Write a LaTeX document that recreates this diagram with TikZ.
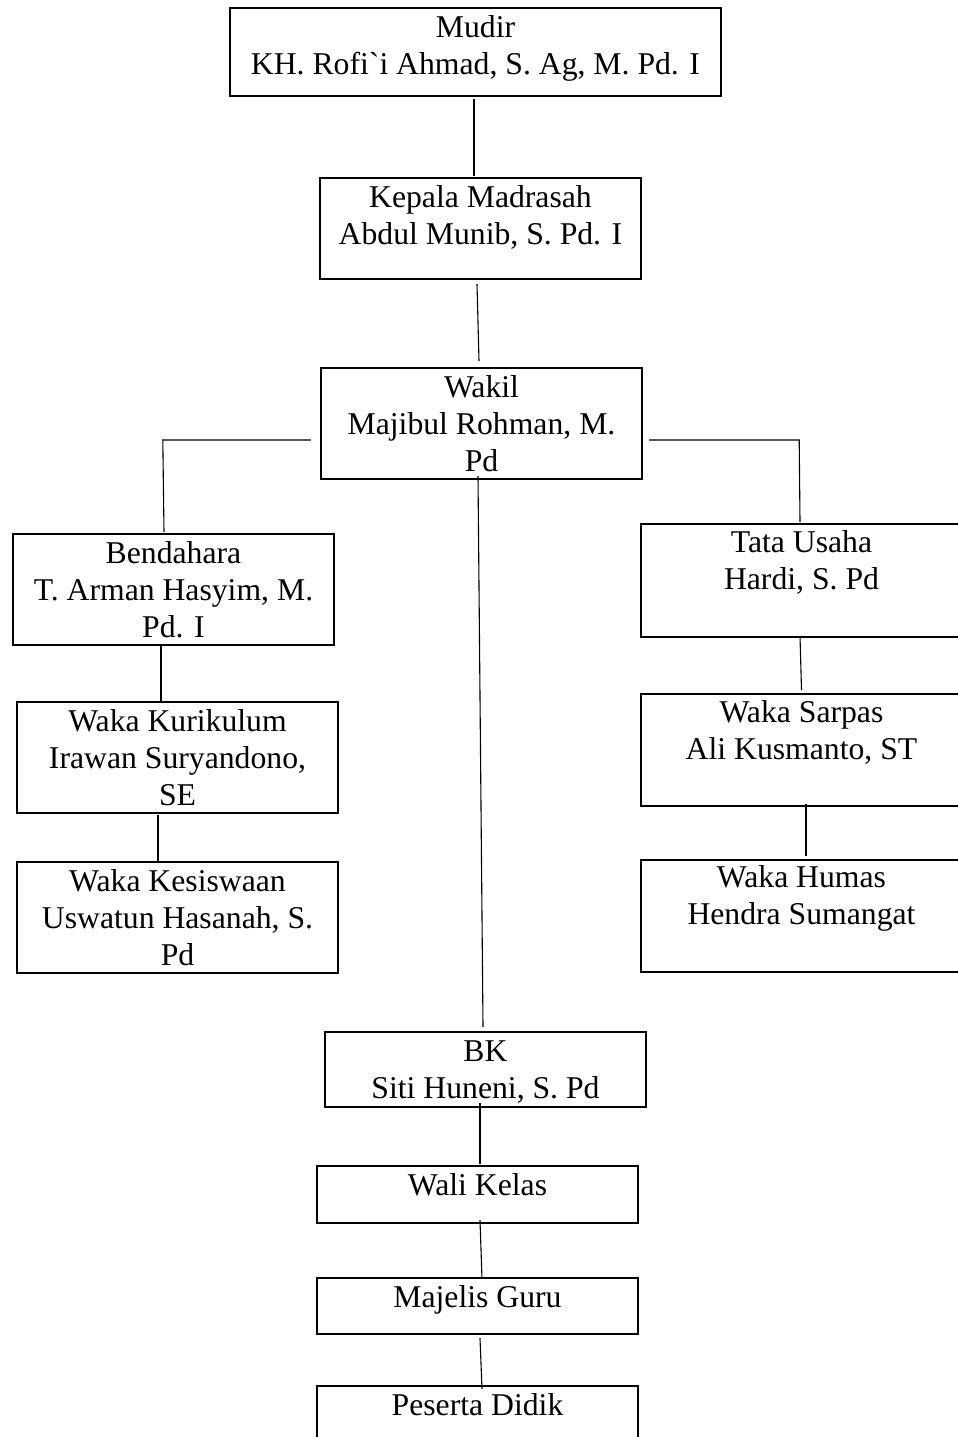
\documentclass[tikz,border=0pt]{standalone}
\usepackage{fontspec}
\setmainfont{Liberation Serif}[Ligatures=TeXOff]
\usetikzlibrary{calc}
\tikzset{
  box/.style={draw, line width=2.4pt, rectangle, inner sep=0pt},
  lbl/.style={align=center, anchor=base, inner sep=0pt, font=\fontsize{31.7}{37}\selectfont},
  conn/.style={line width=1.1pt},
  connthick/.style={line width=2.4pt},
}
\begin{document}
\begin{tikzpicture}[x=1pt,y=-1pt]
\useasboundingbox (0,0) rectangle (958,1437);
\clip (0,0) rectangle (958,1437);
% boxes
\node[box, minimum width=491, minimum height=88]  (mudir)   at (475.5,52) {};
\node[box, minimum width=321, minimum height=101] (kepala)  at (480.5,228.5) {};
\node[box, minimum width=321, minimum height=111] (wakil)   at (481.5,423.5) {};
\node[box, minimum width=321, minimum height=111] (bend)    at (173.5,589.5) {};
\node[box, minimum width=321, minimum height=111] (kuri)    at (177.5,757.5) {};
\node[box, minimum width=321, minimum height=111] (kesis)   at (177.5,917.5) {};
\node[box, minimum width=321, minimum height=113] (tata)    at (801.5,580.5) {};
\node[box, minimum width=321, minimum height=112] (sarpas)  at (801.5,750) {};
\node[box, minimum width=321, minimum height=112] (humas)   at (801.5,916) {};
\node[box, minimum width=321, minimum height=75]  (bk)      at (485.5,1069.5) {};
\node[box, minimum width=321, minimum height=57]  (wali)    at (477.5,1194.5) {};
\node[box, minimum width=321, minimum height=56]  (majelis) at (477.5,1306) {};
\node[box, minimum width=321, minimum height=57]  (peserta) at (477.5,1414.5) {};
% texts (anchor base = baseline of the last line)
\node[lbl] (mudirT)   at ($(mudir.north)+(0,68)$)    {Mudir\\KH. Rofi`i Ahmad, S. Ag, M. Pd. I};
\node[lbl] (kepalaT)  at ($(kepala.north)+(0,68)$)   {Kepala Madrasah\\Abdul Munib, S. Pd. I};
\node[lbl] (wakilT)   at ($(wakil.north)+(0,105)$)   {Wakil\\Majibul Rohman, M.\\Pd};
\node[lbl] (bendT)    at ($(bend.north)+(0,105)$)    {Bendahara\\T. Arman Hasyim, M.\\Pd. I};
\node[lbl] (kuriT)    at ($(kuri.north)+(0,105)$)    {Waka Kurikulum\\Irawan Suryandono,\\SE};
\node[lbl] (kesisT)   at ($(kesis.north)+(0,105)$)   {Waka Kesiswaan\\Uswatun Hasanah, S.\\Pd};
\node[lbl] (tataT)    at ($(tata.north)+(0,67)$)     {Tata Usaha\\Hardi, S. Pd};
\node[lbl] (sarpasT)  at ($(sarpas.north)+(0,67)$)   {Waka Sarpas\\Ali Kusmanto, ST};
\node[lbl] (humasT)   at ($(humas.north)+(0,66)$)    {Waka Humas\\Hendra Sumangat};
\node[lbl] (bkT)      at ($(bk.north)+(0,68)$)       {BK\\Siti Huneni, S. Pd};
\node[lbl] (waliT)    at ($(wali.north)+(0,31)$)     {Wali Kelas};
\node[lbl] (majelisT) at ($(majelis.north)+(0,31)$)  {Majelis Guru};
\node[lbl] (pesertaT) at ($(peserta.north)+(0,31)$)  {Peserta Didik};
% connectors
\draw[connthick] ($(mudir.south)+(-1.5,2)$) -- ($(kepala.north)+(-6.5,-1)$);
\draw[conn] ($(kepala.south)+(-3.5,4)$) -- ($(wakil.north)+(-2.5,-6)$);
\draw[conn] ($(wakil.west)+(-9,16.5)$) -- ++(-148,0) -- ($(bend.north)+(-9.5,-1)$);
\draw[conn] ($(wakil.east)+(6,16.5)$) -- ++(150,0) -- ($(tata.north)+(-1.5,-1)$);
\draw[conn] ($(wakil.south)+(-3.5,-4)$) -- ($(bk.north)+(-2.5,-4)$);
\draw[conn] ($(bend.south)+(-12.5,-2)$) -- ($(kuri.north)+(-16.5,0)$);
\draw[conn] ($(kuri.south)+(-19.5,1)$) -- ($(kesis.north)+(-19.5,1)$);
\draw[conn] ($(tata.south)+(-1.5,-2)$) -- ($(sarpas.north)+(0,-3)$);
\draw[conn] ($(sarpas.south)+(4.5,-3)$) -- ($(humas.north)+(4.5,-3)$);
\draw[conn] ($(bk.south)+(-5.5,-5)$) -- ($(wali.north)+(2.5,-1)$);
\draw[conn] ($(wali.south)+(2.5,-4)$) -- ($(majelis.north)+(4.5,2)$);
\draw[conn] ($(majelis.south)+(2.5,3)$) -- ($(peserta.north)+(4.5,4)$);
\end{tikzpicture}
\end{document}
